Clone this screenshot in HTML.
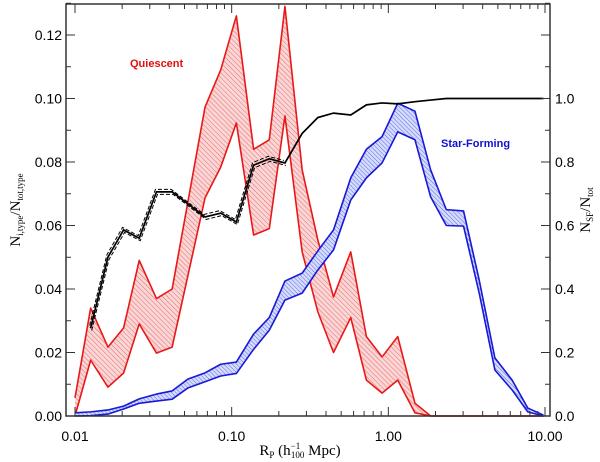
<!DOCTYPE html>
<html><head><meta charset="utf-8"><style>
html,body{margin:0;padding:0;background:#fff;}
svg{display:block;}
text{font-family:"Liberation Sans",sans-serif;}
</style></head><body>
<svg id="chart" width="600" height="462" viewBox="0 0 600 462" xmlns="http://www.w3.org/2000/svg">
<defs>
<pattern id="hatchRed" patternUnits="userSpaceOnUse" width="3.5" height="3.5" patternTransform="rotate(45)">
<rect width="3.5" height="3.5" fill="#fbd6d6"/><line x1="0" y1="0" x2="3.5" y2="0" stroke="#e05050" stroke-width="0.8"/></pattern>
<pattern id="hatchBlue" patternUnits="userSpaceOnUse" width="3" height="3" patternTransform="rotate(45)">
<rect width="3" height="3" fill="#d6dcfb"/><line x1="0" y1="0" x2="3" y2="0" stroke="#4050e0" stroke-width="0.8"/></pattern>
</defs>
<g id="marks"></g>
<g id="axes"></g>
<text x="130" y="67" fill="#e01010" font-size="11" font-weight="bold">Quiescent</text>
<text x="441" y="147" fill="#1010d0" font-size="11" font-weight="bold">Star-Forming</text>
<text x="300" y="455" text-anchor="middle" font-size="15" style="font-family:'Liberation Serif',serif">R<tspan font-size="9" dy="3">P</tspan><tspan dy="-3"> (h</tspan><tspan font-size="9" dy="-6">−1</tspan><tspan font-size="9" dx="-9" dy="9">100</tspan><tspan dy="-3"> Mpc)</tspan></text>
<text transform="translate(20,210) rotate(-90)" text-anchor="middle" font-size="15" style="font-family:'Liberation Serif',serif">N<tspan font-size="9" dy="3">i,type</tspan><tspan dy="-3">/N</tspan><tspan font-size="9" dy="3">tot,type</tspan></text>
<text transform="translate(590,210) rotate(-90)" text-anchor="middle" font-size="15" style="font-family:'Liberation Serif',serif">N<tspan font-size="9" dy="3">SF</tspan><tspan dy="-3">/N</tspan><tspan font-size="9" dy="3">tot</tspan></text>
</svg>
<script>
const logR = [-2.00,-1.90,-1.79,-1.69,-1.59,-1.48,-1.38,-1.28,-1.17,-1.07,-0.97,-0.86,-0.76,-0.66,-0.55,-0.45,-0.35,-0.24,-0.14,-0.04,0.06,0.17,0.27,0.37,0.48,0.58,0.68,0.79,0.89,0.99];
const redUpper = [0.0057,0.034,0.0217,0.0277,0.049,0.037,0.040,null,0.0973,0.109,0.126,0.084,0.087,0.129,0.0775,0.0554,0.0375,0.0517,0.025,0.0186,0.025,0.004,0,0,0,0,0,0,0,0];
const redLower = [0,0.0176,0.0091,0.0135,0.029,0.0198,0.0217,null,0.0687,0.0784,0.0923,0.057,0.059,0.0945,0.0517,0.0328,0.020,0.031,0.0113,0.0072,0.0113,0.001,0,0,0,0,0,0,0,0];
const blueUpper = [0.001,0.0013,0.0019,0.0031,0.0054,0.0069,0.0079,0.0116,0.0136,0.0163,0.017,0.0258,0.031,0.0425,0.045,0.052,0.0586,0.075,0.084,0.088,0.0985,0.096,0.0775,0.065,0.0646,0.0428,0.0183,0.0113,0.0025,0.0003];
const blueLower = [0,0.0001,0.0006,0.0022,0.004,0.0047,0.0053,0.0088,0.0108,0.0126,0.0134,0.021,0.027,0.0365,0.0387,0.046,0.0523,0.068,0.075,0.0797,0.0895,0.087,0.069,0.060,0.0598,0.0387,0.0145,0.0082,0.0013,0];
const sfFrac = [null,0.277,0.50,0.586,0.56,0.706,0.706,null,0.627,0.639,0.611,0.79,0.81,0.797,0.89,0.94,0.954,0.948,0.98,0.986,0.983,0.99,0.995,1,1,1,1,1,1,1];
const xTickLabels = ["0.01","0.10","1.00","10.00"];
const yLeftTicks = [0,0.02,0.04,0.06,0.08,0.10,0.12];
const yLeftLabels = ["0.00","0.02","0.04","0.06","0.08","0.10","0.12"];
const yRightTicks = [0,0.2,0.4,0.6,0.8,1.0];
const yRightLabels = ["0.0","0.2","0.4","0.6","0.8","1.0"];

const L=66,R=550,T=4,B=416;
const xS = lg => 75+(lg+2)*156.67;
const yS = v => B - v*3175;
const yR = v => B - v*317.5;
const NS="http://www.w3.org/2000/svg";
const marks=document.getElementById('marks'), axes=document.getElementById('axes');
function mk(tag,attrs,parent){const e=document.createElementNS(NS,tag);for(const k in attrs)e.setAttribute(k,attrs[k]);parent.appendChild(e);return e;}
function pts(arr,ys){const p=[];arr.forEach((v,i)=>{if(v!==null)p.push([xS(logR[i]),ys(v)]);});return p;}
function band(up,lo,fill,col,name){
  const pu=pts(up,yS), pl=pts(lo,yS).reverse();
  const poly=mk('polygon',{points:pu.concat(pl).map(p=>p.join(',')).join(' '),fill:fill,stroke:'none'},marks);
  
  
  [[pu,'upper'],[pts(lo,yS),'lower']].forEach(([p,n])=>{
    const l=mk('polyline',{points:p.map(q=>q.join(',')).join(' '),fill:'none',stroke:col,'stroke-width':1.6,'stroke-linejoin':'round'},marks);
    
    
  });
}
band(redUpper,redLower,'url(#hatchRed)','#e81818','quiescent');
band(blueUpper,blueLower,'url(#hatchBlue)','#1818d8','star-forming');
const sp=pts(sfFrac,yR).map(q=>q.join(',')).join(' ');
const spErr=pts(sfFrac.slice(0,14),yR).map(q=>q.join(',')).join(' ');
[[-1,-2.5],[1,2.5]].forEach(([dx,dy])=>{
  const d=mk('polyline',{points:spErr,fill:'none',stroke:'#000','stroke-width':1,'stroke-dasharray':'4,2',transform:`translate(${dx},${dy})`},marks);
  
  
});
const sl=mk('polyline',{points:sp,fill:'none',stroke:'#000','stroke-width':1.7},marks);



const fr=mk('rect',{x:L,y:T,width:R-L,height:B-T,fill:'none',stroke:'#333','stroke-width':1.5},axes);


for(let d=-2;d<=0;d++){for(let m=1;m<10;m++){const x=xS(d+Math.log10(m));const len=m===1?9:5;
  mk('line',{x1:x,y1:B,x2:x,y2:B-len,stroke:'#333','stroke-width':1},axes);
  mk('line',{x1:x,y1:T,x2:x,y2:T+len,stroke:'#333','stroke-width':1},axes);}}
{const x=xS(1);mk('line',{x1:x,y1:B,x2:x,y2:B-9,stroke:'#333'},axes);mk('line',{x1:x,y1:T,x2:x,y2:T+9,stroke:'#333'},axes);}
xTickLabels.forEach((t,i)=>{const e=mk('text',{x:xS(-2+i),y:441,'text-anchor':'middle','font-size':14},axes);e.textContent=t;
  
  });
for(let k=0;k<=13;k++){const v=k*0.01,y=yS(v),len=k%2===0?9:5;
  mk('line',{x1:L,y1:y,x2:L+len,y2:y,stroke:'#333'},axes);
  mk('line',{x1:R,y1:y,x2:R-len,y2:y,stroke:'#333'},axes);}
yLeftTicks.forEach((v,i)=>{const e=mk('text',{x:62,y:yS(v)+5,'text-anchor':'end','font-size':14},axes);e.textContent=yLeftLabels[i];
  
  });
yRightTicks.forEach((v,i)=>{const e=mk('text',{x:555,y:yR(v)+5,'font-size':14},axes);e.textContent=yRightLabels[i];
  
  });
</script>
</body></html>
